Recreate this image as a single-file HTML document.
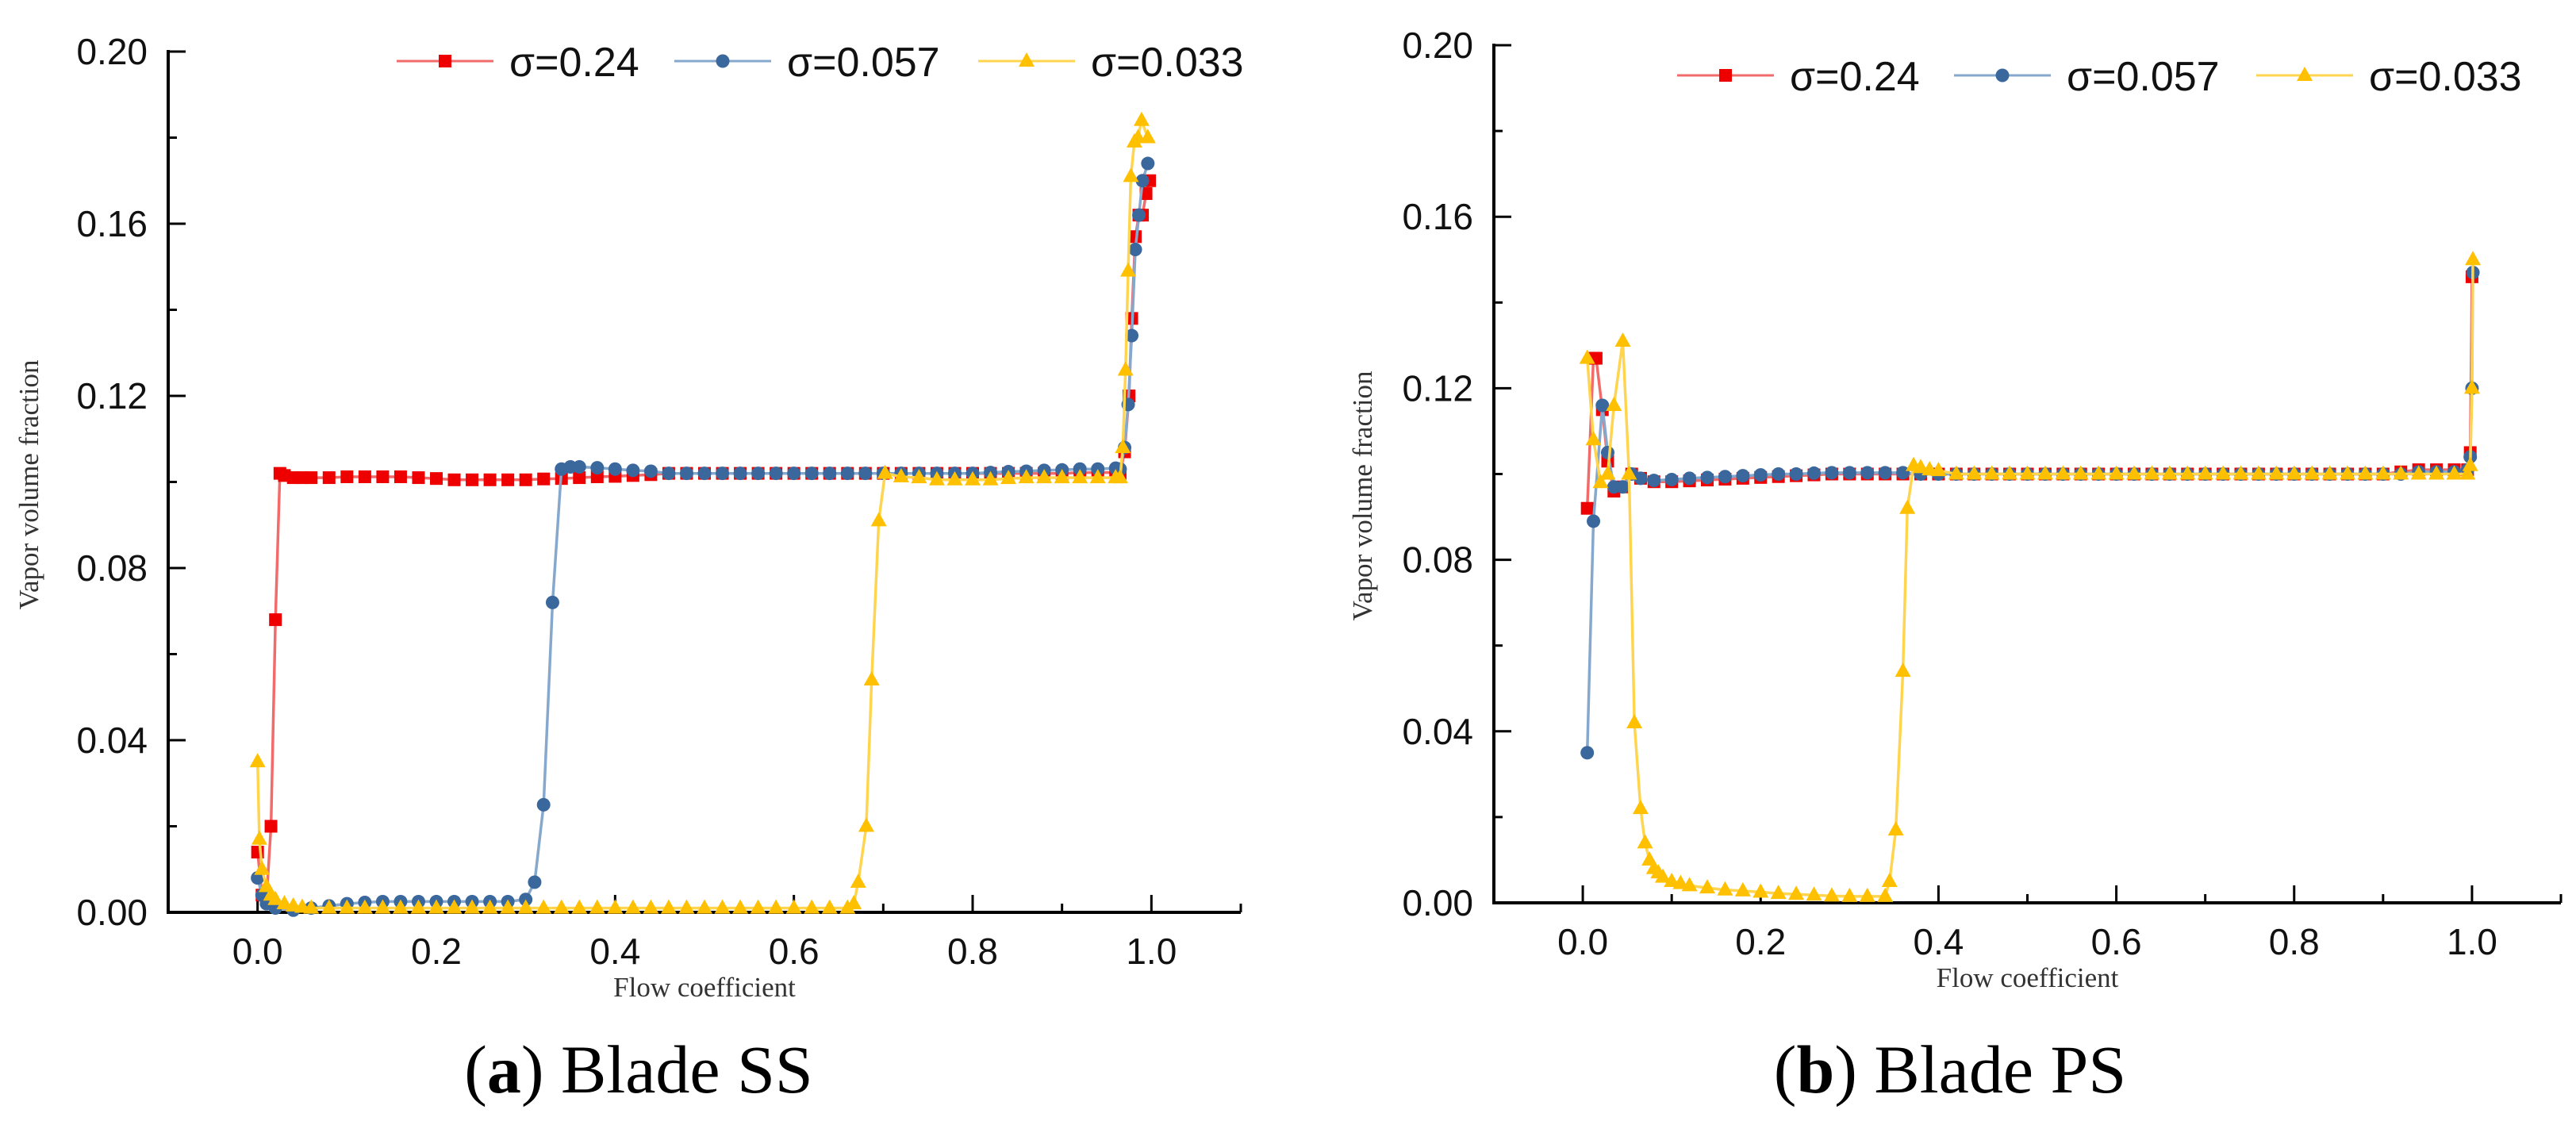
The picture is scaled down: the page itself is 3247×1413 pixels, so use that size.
<!DOCTYPE html>
<html><head><meta charset="utf-8"><style>
html,body{margin:0;padding:0;background:#fff;}
svg{display:block;}
</style></head><body>
<svg id="fig" width="3247" height="1413" viewBox="0 0 3247 1413" xmlns="http://www.w3.org/2000/svg"></svg>
<script>
// ---------- data ----------
const xTicks = [0.0, 0.2, 0.4, 0.6, 0.8, 1.0];
const xTickLabels = ["0.0", "0.2", "0.4", "0.6", "0.8", "1.0"];
const yTicks = [0, 0.04, 0.08, 0.12, 0.16, 0.20];
const yTickLabels = ["0.00", "0.04", "0.08", "0.12", "0.16", "0.20"];
const seriesNames = ["σ=0.24", "σ=0.057", "σ=0.033"];

// Blade SS
const ssRedX = [0,0.005,0.01,0.015,0.02,0.025,0.03,0.04,0.05,0.06,
 0.08,0.1,0.12,0.14,0.16,0.18,0.2,0.22,0.24,0.26,0.28,0.3,0.32,0.34,0.36,0.38,0.4,0.42,0.44,0.46,0.48,0.5,0.52,0.54,0.56,0.58,0.6,0.62,0.64,0.66,0.68,0.7,0.72,0.74,0.76,0.78,0.8,0.82,0.84,0.86,0.88,0.9,0.92,0.94,0.96,
 0.965,0.97,0.975,0.978,0.982,0.986,0.99,0.994,0.998];
const ssRedY = [0.014,0.004,0.003,0.020,0.068,0.102,0.1015,0.101,0.101,0.101,
 0.101,0.1012,0.1012,0.1012,0.1012,0.101,
 0.1008,0.1005,0.1005,0.1005,0.1005,0.1005,
 0.1007,0.1008,0.101,0.1012,0.1013,0.1015,
 0.1017,0.102,0.102,0.102,0.102,0.102,
 0.102,0.102,0.102,0.102,0.102,0.102,
 0.102,0.102,0.102,0.102,0.102,0.102,
 0.102,0.102,0.102,0.102,0.102,0.102,
 0.1022,0.1022,0.1022,
 0.102,0.107,0.12,0.138,0.157,0.162,0.162,0.167,0.170];

const ssBlueX = [0,0.005,0.01,0.02,0.04,0.06,
 0.08,0.1,0.12,0.14,0.16,0.18,0.2,0.22,0.24,0.26,0.28,0.3,
 0.31,0.32,0.33,0.34,0.35,
 0.36,0.38,0.4,0.42,0.44,0.46,0.48,0.5,0.52,0.54,0.56,0.58,0.6,0.62,0.64,0.66,0.68,0.7,0.72,0.74,0.76,0.78,0.8,0.82,0.84,0.86,0.88,0.9,0.92,0.94,0.96,
 0.965,0.97,0.974,0.978,0.982,0.986,0.99,0.996];
const ssBlueY = [0.008,0.004,0.002,0.001,0.0005,0.001,
 0.0015,0.002,0.0023,0.0025,0.0025,0.0025,0.0025,0.0025,0.0025,0.0025,0.0025,0.003,
 0.007,0.025,0.072,0.103,0.1035,
 0.1035,0.1033,0.103,0.1027,0.1025,
 0.102,0.102,0.102,0.102,0.102,0.102,0.102,0.102,0.102,0.102,0.102,0.102,0.102,0.102,0.102,0.102,0.102,0.102,
 0.1022,0.1024,0.1025,0.1027,0.1028,0.103,0.103,0.1032,
 0.103,0.108,0.118,0.134,0.154,0.162,0.170,0.174];

const ssYellowX = [0,0.002,0.005,0.01,0.015,0.02,0.03,0.04,0.05,
 0.06,0.08,0.1,0.12,0.14,0.16,0.18,0.2,0.22,0.24,0.26,0.28,0.3,0.32,0.34,0.36,0.38,0.4,0.42,0.44,0.46,0.48,0.5,0.52,0.54,0.56,0.58,0.6,0.62,0.64,0.66,
 0.667,0.672,0.681,0.687,0.695,0.702,
 0.72,0.74,0.76,0.78,0.8,0.82,0.84,0.86,0.88,0.9,0.92,0.94,0.96,
 0.965,0.968,0.971,0.974,0.977,0.981,0.985,0.989,0.996];
const ssYellowY = [0.035,0.017,0.01,0.006,0.004,0.003,0.002,0.0015,0.0012,
 0.001,0.001,0.001,0.001,0.001,0.001,0.001,0.001,0.001,0.001,0.001,0.001,0.001,0.001,0.001,0.001,0.001,0.001,0.001,0.001,0.001,0.001,0.001,0.001,0.001,0.001,0.001,0.001,0.001,0.001,0.001,
 0.002,0.007,0.020,0.054,0.091,0.102,
 0.1012,0.101,0.1005,0.1005,0.1005,0.1005,0.1008,0.101,0.101,0.101,0.101,0.101,0.101,
 0.101,0.108,0.126,0.149,0.171,0.179,0.180,0.184,0.180];

// Blade PS
const psRedX = [0.005,0.012,0.015,0.022,0.028,0.035,0.045,0.055,0.065,
 0.08,0.1,0.12,0.14,0.16,0.18,0.2,0.22,0.24,0.26,0.28,0.3,0.32,0.34,0.36,
 0.38,0.4,0.42,0.44,0.46,0.48,0.5,0.52,0.54,0.56,0.58,0.6,0.62,0.64,0.66,0.68,0.7,0.72,0.74,0.76,0.78,0.8,0.82,0.84,0.86,0.88,0.9,
 0.92,0.94,0.96,0.98,
 0.995,0.998,1.0];
const psRedY = [0.092,0.127,0.127,0.115,0.103,0.096,0.097,0.100,0.099,
 0.0982,0.0982,0.0984,0.0986,0.0988,0.099,0.0992,0.0994,0.0996,0.0998,0.1,0.1,0.1,0.1,0.1,
 0.1,0.1,0.1,0.1,0.1,0.1,0.1,0.1,0.1,0.1,0.1,0.1,0.1,0.1,0.1,0.1,0.1,0.1,0.1,0.1,0.1,0.1,0.1,0.1,0.1,0.1,0.1,
 0.1005,0.101,0.101,0.101,
 0.101,0.105,0.146];

const psBlueX = [0.005,0.012,0.022,0.028,0.035,0.045,0.055,0.065,
 0.08,0.1,0.12,0.14,0.16,0.18,0.2,0.22,0.24,0.26,0.28,0.3,0.32,0.34,0.36,
 0.38,0.4,0.42,0.44,0.46,0.48,0.5,0.52,0.54,0.56,0.58,0.6,0.62,0.64,0.66,0.68,0.7,0.72,0.74,0.76,0.78,0.8,0.82,0.84,0.86,0.88,0.9,0.92,0.94,0.96,0.98,
 0.995,0.998,1.0,1.001];
const psBlueY = [0.035,0.089,0.116,0.105,0.097,0.097,0.100,0.099,
 0.0985,0.0987,0.099,0.0992,0.0994,0.0996,0.0998,0.1,0.1,0.1002,0.1003,0.1003,0.1003,0.1003,0.1003,
 0.1,0.1,0.1,0.1,0.1,0.1,0.1,0.1,0.1,0.1,0.1,0.1,0.1,0.1,0.1,0.1,0.1,0.1,0.1,0.1,0.1,0.1,0.1,0.1,0.1,0.1,0.1,0.1,0.1005,0.1005,0.1005,
 0.101,0.104,0.12,0.147];

const psYellowX = [0.005,0.012,0.02,0.028,0.035,0.045,0.052,0.058,0.065,0.07,0.075,0.08,0.085,0.09,0.1,0.11,0.12,0.14,0.16,0.18,0.2,0.22,0.24,0.26,0.28,0.3,0.32,0.34,0.345,0.352,0.36,0.365,0.372,0.38,0.39,0.4,
 0.42,0.44,0.46,0.48,0.5,0.52,0.54,0.56,0.58,0.6,0.62,0.64,0.66,0.68,0.7,0.72,0.74,0.76,0.78,0.8,0.82,0.84,0.86,0.88,0.9,0.92,0.94,0.96,0.98,
 0.995,0.998,1.0,1.001];
const psYellowY = [0.127,0.108,0.098,0.100,0.116,0.131,0.100,0.042,0.022,0.014,0.010,0.008,0.007,0.006,0.005,0.0045,0.004,0.0035,0.003,0.0028,0.0025,0.0022,0.002,0.0018,0.0016,0.0015,0.0015,0.0015,0.005,0.017,0.054,0.092,0.102,0.1015,0.101,0.1008,
 0.1,0.1,0.1,0.1,0.1,0.1,0.1,0.1,0.1,0.1,0.1,0.1,0.1,0.1,0.1,0.1,0.1,0.1,0.1,0.1,0.1,0.1,0.1,0.1,0.1,0.1,0.1,0.1,0.1,
 0.1,0.102,0.12,0.15];

// ---------- drawing ----------
const NS = "http://www.w3.org/2000/svg";
const svg = document.getElementById("fig");
function mk(tag, attrs, parent) {
  const e = document.createElementNS(NS, tag);
  for (const k in attrs) e.setAttribute(k, attrs[k]);
  (parent || svg).appendChild(e);
  return e;
}
const colors = [
  {line: "#f26b6b", mark: "#ee0000", shape: "square"},
  {line: "#86a8cc", mark: "#3a679c", shape: "circle"},
  {line: "#ffd54f", mark: "#ffc000", shape: "triangle"}
];

function marker(shape, px, py, fill, parent) {
  if (shape === "square") return mk("rect", {x: px - 8, y: py - 8, width: 16, height: 16, fill: fill}, parent);
  if (shape === "circle") return mk("circle", {cx: px, cy: py, r: 8.5, fill: fill}, parent);
  return mk("polygon", {points: `${px},${py - 11} ${px - 10},${py + 7} ${px + 10},${py + 7}`, fill: fill}, parent);
}

function drawChart(cfg) {
  const g = mk("g", {});
  
  
  const xs = v => cfg.x0 + (v - (-0.1)) / 1.2 * (cfg.x1 - cfg.x0);
  const ys = v => cfg.yb - v / 0.2 * (cfg.yb - cfg.yt);

  const axes = mk("g", {stroke: "#000", "stroke-width": 4, fill: "none"}, g);
  
  
  mk("line", {x1: cfg.x0, y1: ys(0.2) - 2, x2: cfg.x0, y2: cfg.yb + 2}, axes);
  mk("line", {x1: cfg.x0, y1: cfg.yb, x2: cfg.x1, y2: cfg.yb}, axes);
  for (let i = 0; i <= 10; i++) {
    const v = i * 0.02, major = i % 2 === 0;
    mk("line", {x1: cfg.x0, y1: ys(v), x2: cfg.x0 + (major ? 22 : 11), y2: ys(v), "stroke-width": 3}, axes);
  }
  for (let i = 0; i <= 11; i++) {
    const v = i * 0.1, major = i % 2 === 0;
    mk("line", {x1: xs(v), y1: cfg.yb, x2: xs(v), y2: cfg.yb - (major ? 22 : 11), "stroke-width": 3}, axes);
  }
  yTicks.forEach((v, i) => {
    const t = mk("text", {x: cfg.x0 - 26, y: ys(v) + 16, "text-anchor": "end", "font-family": "Liberation Sans, sans-serif", "font-size": 46, fill: "#111"}, g);
    
    
    t.textContent = yTickLabels[i];
  });
  xTicks.forEach((v, i) => {
    const t = mk("text", {x: xs(v), y: cfg.yb + 65, "text-anchor": "middle", "font-family": "Liberation Sans, sans-serif", "font-size": 46, fill: "#111"}, g);
    
    
    t.textContent = xTickLabels[i];
  });
  const xt = mk("text", {x: (xs(0) + xs(1)) / 2, y: cfg.yb + 106, "text-anchor": "middle", "font-family": "Liberation Serif, serif", "font-size": 35, fill: "#333"}, g);
  
  
  xt.textContent = "Flow coefficient";
  const yt = mk("text", {x: 0, y: 0, "text-anchor": "middle", "font-family": "Liberation Serif, serif", "font-size": 35, fill: "#333", transform: `translate(${cfg.ytx},${cfg.yty}) rotate(-90)`}, g);
  
  
  yt.textContent = "Vapor volume fraction";

  cfg.series.forEach((s, si) => {
    const c = colors[si];
    const sg = mk("g", {}, g);
    
    
    const pts = s.x.map((xv, i) => xs(xv).toFixed(1) + "," + ys(s.y[i]).toFixed(1)).join(" ");
    mk("polyline", {points: pts, fill: "none", stroke: c.line, "stroke-width": 3.5}, sg);
    s.x.forEach((xv, i) => {
      const m = marker(c.shape, xs(xv), ys(s.y[i]), c.mark, sg);
      
      
    });
  });

  cfg.legend.forEach((lx, i) => {
    const c = colors[i];
    const lg = mk("g", {}, g);
    
    
    const ly = cfg.legendY;
    mk("line", {x1: lx, y1: ly, x2: lx + 122, y2: ly, stroke: c.line, "stroke-width": 3}, lg);
    marker(c.shape, lx + 61, ly, c.mark, lg);
    const t = mk("text", {x: lx + 142, y: ly + 19, "font-family": "Liberation Sans, sans-serif", "font-size": 52, fill: "#111"}, lg);
    t.textContent = seriesNames[i];
  });

  const cap = mk("text", {x: cfg.capX, y: 1377, "text-anchor": "middle", "font-family": "Liberation Serif, serif", "font-size": 86, fill: "#000"}, g);
  
  
  const p1 = mk("tspan", {}, cap); p1.textContent = "(";
  const p2 = mk("tspan", {"font-weight": "bold"}, cap); p2.textContent = cfg.capLetter;
  const p3 = mk("tspan", {}, cap); p3.textContent = ") " + cfg.capText;
}

drawChart({name: "chart-blade-ss", x0: 212, x1: 1564, yt: 65, yb: 1150, ytx: 48, yty: 611,
  legendY: 77, legend: [500, 850, 1233], capX: 805, capLetter: "a", capText: "Blade SS",
  series: [{x: ssRedX, y: ssRedY}, {x: ssBlueX, y: ssBlueY}, {x: ssYellowX, y: ssYellowY}]});
drawChart({name: "chart-blade-ps", x0: 1883, x1: 3228, yt: 57, yb: 1138, ytx: 1729, yty: 625,
  legendY: 95, legend: [2114, 2463, 2844], capX: 2458, capLetter: "b", capText: "Blade PS",
  series: [{x: psRedX, y: psRedY}, {x: psBlueX, y: psBlueY}, {x: psYellowX, y: psYellowY}]});
</script>
</body></html>
